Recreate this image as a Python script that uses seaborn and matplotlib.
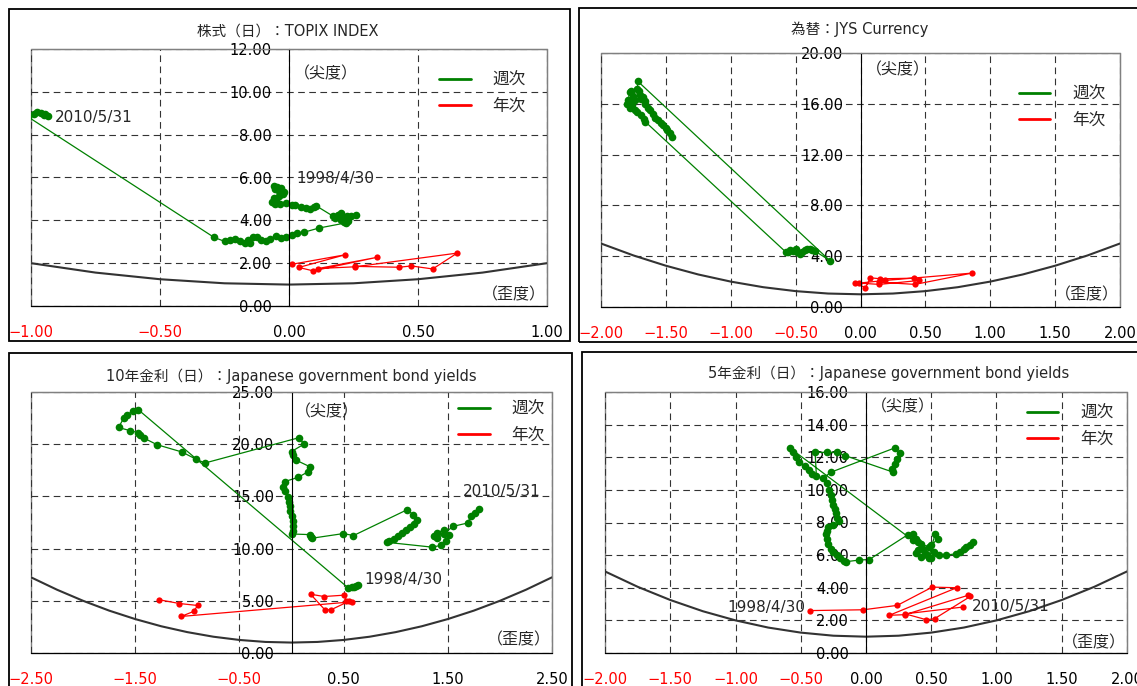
import matplotlib
matplotlib.use('Agg')
import matplotlib.pyplot as plt
from matplotlib.lines import Line2D
from matplotlib.patches import Rectangle
import seaborn as sns

# ---- data (skew, kurtosis) ----
titles = ['株式（日）：TOPIX INDEX', '為替：JYS Currency',
          '10年金利（日）：Japanese government bond yields',
          '5年金利（日）：Japanese government bond yields']

# TOPIX
topix_w_skew = [-0.060, -0.045, -0.030, -0.055, -0.040, -0.020, -0.025, -0.040, -0.060, -0.050, -0.065, -0.055,
                -0.035, -0.010, 0.010, 0.025, 0.045, 0.065, 0.080, 0.095, 0.105,
                0.170, 0.180, 0.200, 0.215, 0.230, 0.210, 0.190, 0.200, 0.225, 0.240, 0.258, 0.220,
                0.116, 0.060, 0.030, 0.010, -0.010, -0.030, -0.050, -0.075, -0.090, -0.110, -0.125, -0.140,
                -0.160, -0.170, -0.150, -0.190, -0.210, -0.230, -0.250, -0.290,
                -1.010, -0.990, -0.975, -0.960, -0.950, -0.935, -0.945]
topix_w_kurt = [5.62, 5.55, 5.50, 5.45, 5.38, 5.30, 5.22, 5.15, 5.05, 4.95, 4.85, 4.78,
                4.76, 4.80, 4.72, 4.70, 4.62, 4.56, 4.55, 4.62, 4.68,
                4.20, 4.10, 4.00, 3.92, 3.98, 4.10, 4.25, 4.32, 4.18, 4.22, 4.24, 3.88,
                3.64, 3.45, 3.40, 3.30, 3.22, 3.18, 3.25, 3.15, 3.05, 3.10, 3.20, 3.22,
                3.10, 2.95, 2.92, 3.05, 3.12, 3.10, 3.02, 3.20,
                8.82, 8.95, 9.05, 9.00, 8.90, 8.85, 8.95]
topix_y_skew = [0.012, 0.217, 0.038, 0.094, 0.340, 0.113, 0.256, 0.652, 0.557, 0.474, 0.427, 0.256]
topix_y_kurt = [1.95, 2.39, 1.80, 1.64, 2.27, 1.75, 1.83, 2.47, 1.73, 1.87, 1.81, 1.85]

# JYS currency
jys_w_skew = [-1.80, -1.79, -1.78, -1.77, -1.75, -1.74, -1.76, -1.78, -1.74, -1.72, -1.69, -1.67, -1.66,
              -0.578, -0.56, -0.54, -0.52, -0.50, -0.49, -0.47, -0.45, -0.43, -0.41, -0.39, -0.37, -0.35, -0.237,
              -1.716, -1.72, -1.71, -1.70, -1.69, -1.68, -1.66, -1.66, -1.64, -1.62, -1.60, -1.58, -1.56,
              -1.54, -1.52, -1.50, -1.49, -1.47, -1.45]
jys_w_kurt = [16.0, 16.3, 16.9, 17.0, 16.6, 16.3, 15.9, 15.7, 15.5, 15.35, 15.1, 14.83, 14.6,
              4.35, 4.30, 4.45, 4.40, 4.55, 4.30, 4.20, 4.35, 4.50, 4.60, 4.55, 4.45, 4.40, 3.66,
              17.77, 17.2, 17.0, 16.7, 16.4, 16.5, 16.2, 16.0, 15.7, 15.5, 15.2, 14.9, 14.7,
              14.5, 14.3, 14.1, 13.9, 13.7, 13.4]
jys_y_skew = [-0.044, 0.038, 0.077, 0.154, 0.41, 0.454, 0.146, -0.013, 0.19, 0.86, 0.42, 0.146]
jys_y_kurt = [1.91, 1.52, 2.30, 2.22, 2.27, 2.09, 1.78, 1.88, 2.09, 2.67, 1.78, 1.95]

# 10Y JGB
jgb10_w_skew = [0.64, 0.62, 0.60, 0.58, 0.54,
                -1.47, -1.52, -1.58, -1.61, -1.66, -1.55, -1.47, -1.45, -1.42, -1.29, -1.05, -0.92, -0.83,
                0.074, 0.119, 0.0, 0.016, 0.042, 0.177, 0.161, 0.064, -0.064, -0.08, -0.06, -0.032, -0.02,
                -0.016, -0.01, 0.0, 0.01, 0.016, 0.01, 0.0, 0.177, 0.19, 0.20, 0.498, 0.595,
                1.109, 1.17, 1.206, 1.18, 1.14, 1.10, 1.06, 1.02, 0.98, 0.94, 0.916,
                1.35, 1.43, 1.48, 1.51, 1.46, 1.40, 1.37, 1.40, 1.46, 1.55, 1.69, 1.72, 1.76, 1.80]
jgb10_w_kurt = [6.5, 6.45, 6.35, 6.3, 6.27,
                23.3, 23.2, 22.8, 22.5, 21.6, 21.3, 21.1, 20.9, 20.6, 19.95, 19.25, 18.58, 18.2,
                20.63, 20.0, 19.3, 18.95, 18.48, 17.84, 17.37, 16.83, 16.42, 15.94, 15.5, 14.99, 14.5,
                14.04, 13.6, 13.09, 12.6, 12.13, 11.66, 11.4, 11.34, 11.1, 11.0, 11.44, 11.25,
                13.72, 13.24, 12.77, 12.4, 12.1, 11.8, 11.5, 11.2, 10.9, 10.7, 10.6,
                10.14, 10.3, 10.7, 11.34, 11.8, 11.5, 11.18, 11.0, 11.4, 12.13, 12.45, 13.09, 13.4, 13.78]
jgb10_y_skew = [0.524, 0.505, 0.312, 0.183, 0.32, 0.379, 0.55, 0.579, -1.06, -0.94, -0.90, -1.075, -1.27]
jgb10_y_kurt = [5.0, 5.54, 5.41, 5.63, 4.14, 4.14, 4.95, 4.9, 3.5, 3.98, 4.55, 4.74, 5.1]

# 5Y JGB
jgb5_w_skew = [0.40, 0.45, 0.48, 0.42, 0.38, 0.36,
               -0.58, -0.56, -0.54, -0.51, -0.47, -0.44, -0.41, -0.38,
               -0.39, -0.30, -0.22, -0.16, 0.21, 0.20, 0.22, 0.24, 0.26, 0.22, -0.27,
               -0.33, -0.30, -0.28, -0.27, -0.26, -0.25, -0.24, -0.23, -0.22, -0.21, -0.25, -0.29, -0.30,
               -0.31, -0.30, -0.29, -0.27, -0.25, -0.22, -0.20, -0.17, -0.15, -0.05, 0.025,
               0.32, 0.36, 0.40, 0.44, 0.38, 0.42, 0.47, 0.52, 0.50, 0.55, 0.53, 0.48, 0.50, 0.56,
               0.61, 0.69, 0.72, 0.75, 0.77, 0.80, 0.82]
jgb5_w_kurt = [6.3, 6.1, 6.5, 6.7, 7.0, 6.9,
               12.55, 12.3, 12.0, 11.7, 11.45, 11.2, 11.0, 10.85,
               12.3, 12.3, 12.3, 12.1, 11.08, 11.3, 11.6, 11.9, 12.24, 12.57, 11.08,
               10.7, 10.4, 10.0, 9.7, 9.4, 9.1, 8.8, 8.6, 8.3, 8.1, 7.85, 7.7, 7.5,
               7.3, 7.0, 6.7, 6.4, 6.2, 6.0, 5.8, 5.65, 5.6, 5.7, 5.73,
               7.25, 7.3, 6.8, 6.4, 6.1, 5.9, 6.0, 6.2, 6.6, 7.0, 7.3, 5.85, 5.8, 6.0,
               6.0, 6.08, 6.2, 6.35, 6.5, 6.65, 6.8]
jgb5_y_skew = [-0.43, -0.02, 0.24, 0.508, 0.695, 0.178, 0.297, 0.78, 0.80, 0.525, 0.462, 0.30, 0.746]
jgb5_y_kurt = [2.60, 2.65, 2.92, 4.04, 4.00, 2.31, 2.35, 3.53, 3.47, 2.10, 2.04, 2.40, 2.82]

# lower bound line (kurtosis >= skew^2 + 1) read at nodes
bound_skew = [-2.5, -2.25, -2.0, -1.75, -1.5, -1.25, -1.0, -0.75, -0.5, -0.25, 0.0,
              0.25, 0.5, 0.75, 1.0, 1.25, 1.5, 1.75, 2.0, 2.25, 2.5]
bound_kurt = [7.25, 6.06, 5.0, 4.06, 3.25, 2.56, 2.0, 1.56, 1.25, 1.06, 1.0,
              1.06, 1.25, 1.56, 2.0, 2.56, 3.25, 4.06, 5.0, 6.06, 7.25]

# ---- drawing ----
sns.set_style('white')
plt.rcParams['font.family'] = ['DejaVu Sans', 'Noto Sans CJK JP']
plt.rcParams['font.size'] = 10

W, H = 1137, 686
fig = plt.figure(figsize=(11.37, 6.86), dpi=100)

for l, t, r, b in [(9, 9, 570, 341), (579, 8, 1145, 342), (9, 353, 572, 695), (582, 352, 1145, 695)]:
    fig.patches.append(Rectangle((l / W, 1 - b / H), (r - l) / W, (b - t) / H,
                                 transform=fig.transFigure, fill=False, ec='black', lw=1.3))


def panel(box, title, title_xy, xlim, xticks, ylim, yticks, wk, yr, lab_k, lab_s, leg_at, notes):
    l, t, r, b = box
    ax = fig.add_axes([l / W, 1 - b / H, (r - l) / W, (b - t) / H])
    sb = [s for s in bound_skew if xlim[0] <= s <= xlim[1]]
    kb = [k for s, k in zip(bound_skew, bound_kurt) if xlim[0] <= s <= xlim[1]]
    sns.lineplot(x=sb, y=kb, sort=False, estimator=None, ax=ax, color='#333333', lw=1.5)
    sns.lineplot(x=wk[0], y=wk[1], sort=False, estimator=None, ax=ax, color='green', lw=0.9,
                 marker='o', markersize=5.5, markeredgewidth=0)
    sns.lineplot(x=yr[0], y=yr[1], sort=False, estimator=None, ax=ax, color='red', lw=0.9,
                 marker='o', markersize=4.5, markeredgewidth=0)
    ax.set_xlim(xlim)
    ax.set_ylim(ylim)
    ax.set_xticks(xticks)
    ax.set_xticklabels([f'{v:.2f}'.replace('-', '\u2212') for v in xticks])
    for lbl, v in zip(ax.get_xticklabels(), xticks):
        lbl.set_color('red' if v < 0 else 'black')
    ax.set_yticks(yticks)
    ax.set_yticklabels([f'{v:.2f}' for v in yticks])
    ax.set_xlabel('')
    ax.set_ylabel('')
    ax.grid(True, color='#333333', ls=(0, (6, 4)), lw=0.8)
    ax.set_axisbelow(True)
    ax.spines['left'].set_position(('data', 0))
    ax.spines['left'].set_color('black')
    ax.spines['bottom'].set_color('black')
    ax.spines['top'].set_color('gray')
    ax.spines['right'].set_color('gray')
    ax.add_patch(Rectangle((0, 0), 1, 1, transform=ax.transAxes, fill=False, ec='gray', lw=1,
                           clip_on=False, zorder=0.5))
    ax.tick_params(axis='y', direction='inout', length=5, pad=10, colors='black', labelsize=10.5)
    ax.tick_params(axis='x', direction='inout', length=5, pad=11, labelsize=10.5)
    ax.text(lab_k[0], lab_k[1], '（尖度）', ha='left', va='center', fontsize=11.5)
    ax.text(lab_s[0], lab_s[1], '（歪度）', ha='right', va='center', fontsize=11.5)
    for x, y, s, ha in notes:
        ax.text(x, y, s, ha=ha, va='center', fontsize=11)
    handles = [Line2D([], [], color='green', lw=2), Line2D([], [], color='red', lw=2)]
    ax.legend(handles, ['週次', '年次'], loc='upper left', bbox_to_anchor=leg_at, frameon=False,
              handlelength=1.9, handletextpad=1.3, labelspacing=0.5, borderpad=0,
              borderaxespad=0, fontsize=12)
    fig.text(title_xy[0] / W, 1 - title_xy[1] / H, title, ha='center', va='center', fontsize=10.5)
    return ax


panel((31, 49, 547, 306), titles[0], (288, 31), (-1, 1), [-1, -0.5, 0, 0.5, 1], (0, 12), range(0, 13, 2),
      (topix_w_skew, topix_w_kurt), (topix_y_skew, topix_y_kurt), (0.02, 10.83), (0.995, 0.51),
      (0.791, 0.915), [(-0.907, 8.82, '2010/5/31', 'left'), (0.027, 5.93, '1998/4/30', 'left')])

panel((601, 53, 1120, 307), titles[1], (860, 29), (-2, 2), [-2, -1.5, -1, -0.5, 0, 0.5, 1, 1.5, 2],
      (0, 20), range(0, 21, 4),
      (jys_w_skew, jys_w_kurt), (jys_y_skew, jys_y_kurt), (0.045, 18.66), (1.99, 0.94),
      (0.805, 0.875), [])

panel((31, 392, 552, 653), titles[2], (291, 376), (-2.5, 2.5), [-2.5, -1.5, -0.5, 0.5, 1.5, 2.5],
      (0, 25), range(0, 26, 5),
      (jgb10_w_skew, jgb10_w_kurt), (jgb10_y_skew, jgb10_y_kurt), (0.03, 23.08), (2.49, 1.25),
      (0.82, 0.97), [(1.64, 15.5, '2010/5/31', 'left'), (0.70, 7.0, '1998/4/30', 'left')])

panel((605, 392, 1127, 653), titles[3], (889, 373), (-2, 2), [-2, -1.5, -1, -0.5, 0, 0.5, 1, 1.5, 2],
      (0, 16), range(0, 17, 2),
      (jgb5_w_skew, jgb5_w_kurt), (jgb5_y_skew, jgb5_y_kurt), (0.035, 15.08), (1.99, 0.61),
      (0.808, 0.955), [(-0.467, 2.76, '1998/4/30', 'right'), (0.81, 2.82, '2010/5/31', 'left')])

fig.savefig('out.png', dpi=100)
